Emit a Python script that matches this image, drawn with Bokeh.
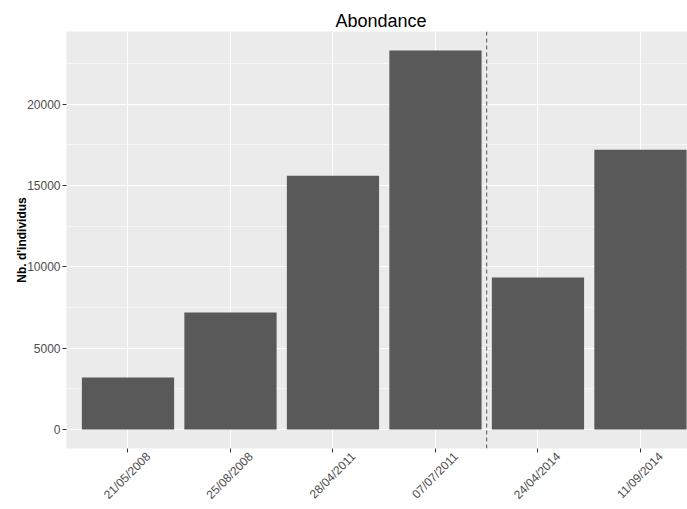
import math
from bokeh.plotting import figure
from bokeh.models import (Range1d, FixedTicker, SingleIntervalTicker, Span,
                          LinearAxis)
from bokeh.embed import file_html
from bokeh.resources import INLINE

# ---- data ----
dates = ["21/05/2008", "25/08/2008", "28/04/2011", "07/07/2011", "24/04/2014", "11/09/2014"]
positions = [1, 2, 3, 4, 5, 6]
abondance = [3200, 7200, 15600, 23300, 9350, 17200]
separator = 4.5  # dashed line between 2011 and 2014 campaigns

FONT = "Liberation Sans"
ymax = max(abondance)
pad = 0.05 * ymax
LABEL_SHIFT = 0.20  # horizontal shift so that rotated labels are centred on ticks

p = figure(width=687, height=509, output_backend="svg", toolbar_location=None,
           x_range=Range1d(0.4, 6.459), y_range=Range1d(-pad, ymax + pad),
           x_axis_location=None,
           min_border_left=66, min_border_right=0, min_border_top=31,
           min_border_bottom=61)

p.background_fill_color = "#EBEBEB"
p.border_fill_color = "white"
p.outline_line_color = None

p.title.text = "Abondance"
p.title.text_font = FONT
p.title.text_font_size = "18px"
p.title.text_font_style = "normal"
p.title.text_color = "black"
p.title.align = "left"
p.title.offset = 269
p.title.standoff = 2

p.vbar(x=positions, top=abondance, bottom=0, width=0.9,
       fill_color="#595959", line_color=None)

p.add_layout(Span(location=separator, dimension="height", line_color="#555555",
                  line_width=1, line_dash="4 3"))

# x axis: tick marks only
xa = LinearAxis(ticker=FixedTicker(ticks=positions))
xa.major_label_text_font_size = "1px"
xa.major_label_text_color = None
xa.major_label_standoff = 0
xa.axis_line_color = None
xa.major_tick_line_color = "#333333"
xa.major_tick_out = 4
xa.major_tick_in = 0
xa.minor_tick_line_color = None
p.add_layout(xa, "below")

# x axis: rotated date labels
label_ticks = [x + LABEL_SHIFT for x in positions]
xl = LinearAxis(ticker=FixedTicker(ticks=label_ticks))
xl.major_label_overrides = {t: d for t, d in zip(label_ticks, dates)}
xl.major_label_orientation = math.pi / 4
xl.major_label_text_font = FONT
xl.major_label_text_font_size = "12px"
xl.major_label_text_color = "#4D4D4D"
xl.major_label_standoff = 2
xl.axis_line_color = None
xl.major_tick_line_color = None
xl.major_tick_out = 0
xl.major_tick_in = 0
xl.minor_tick_line_color = None
p.add_layout(xl, "below")

ya = p.yaxis[0]
ya.ticker = SingleIntervalTicker(interval=5000, num_minor_ticks=2)
ya.axis_label = "Nb. d'individus"
ya.axis_label_text_font = FONT
ya.axis_label_text_font_size = "12px"
ya.axis_label_text_font_style = "bold"
ya.axis_label_text_color = "black"
ya.axis_label_standoff = -5
ya.major_label_text_font = FONT
ya.major_label_text_font_size = "12px"
ya.major_label_text_color = "#4D4D4D"
ya.major_label_standoff = 2
ya.axis_line_color = None
ya.major_tick_line_color = "#333333"
ya.major_tick_out = 4
ya.major_tick_in = 0
ya.minor_tick_line_color = None
ya.formatter.use_scientific = False

# grids
p.xgrid.ticker = FixedTicker(ticks=positions)
p.xgrid.grid_line_color = "white"
p.xgrid.grid_line_width = 1.1
p.ygrid.grid_line_color = "white"
p.ygrid.grid_line_width = 1.1
p.ygrid.minor_grid_line_color = "white"
p.ygrid.minor_grid_line_width = 0.55

open("out.html", "w").write(file_html(p, INLINE))
